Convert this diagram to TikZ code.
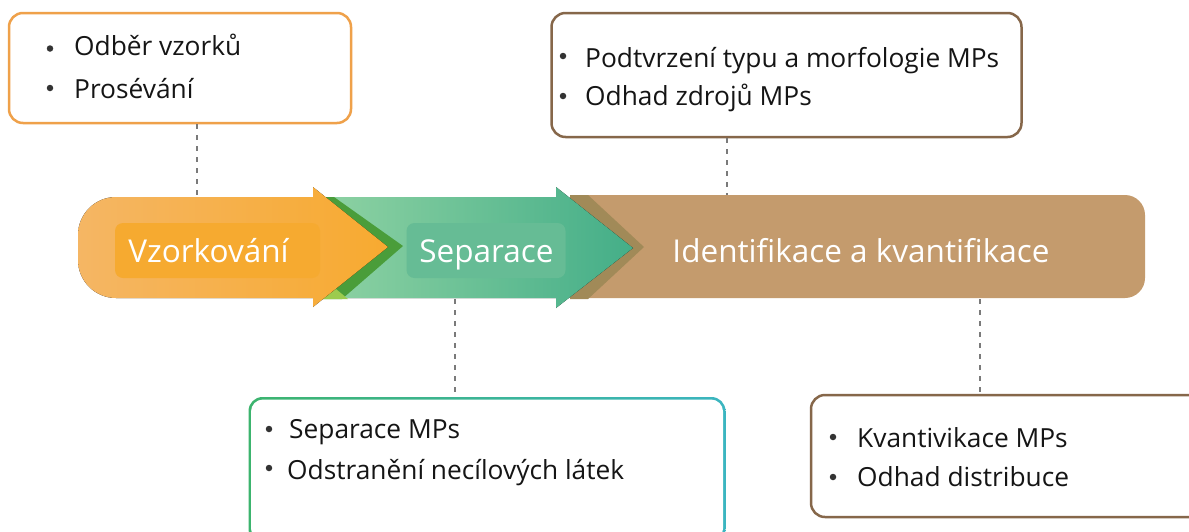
\documentclass[tikz,border=0pt]{standalone}
\usepackage{fontspec}
\setmainfont{Open Sans}
\definecolor{orA}{HTML}{F5B664}
\definecolor{orB}{HTML}{F7AA30}
\definecolor{orIn}{HTML}{F6AA30}
\definecolor{grDark}{HTML}{4A9D3A}
\definecolor{grLime}{HTML}{9CCB4E}
\definecolor{grA}{HTML}{8CD1A2}
\definecolor{grB}{HTML}{44AE88}
\definecolor{grIn}{HTML}{66BC95}
\definecolor{olive}{HTML}{A18A58}
\definecolor{brownband}{HTML}{C49B6D}
\definecolor{bxOr}{HTML}{EFA14A}
\definecolor{bxBr}{HTML}{86674A}
\definecolor{bxGr}{HTML}{3CB46E}
\definecolor{bxTe}{HTML}{3BB5C0}
\definecolor{dashc}{HTML}{7A7A7A}
\definecolor{txt}{HTML}{151515}
\definecolor{dotc}{HTML}{333333}
\tikzset{
  bandlabel/.style={inner sep=0, text=white, font=\fontsize{31.5}{36}\selectfont},
  item/.style={inner sep=0, anchor=base west, text=txt, font=\fontsize{26.3}{30}\selectfont},
  dot/.style={circle, fill=dotc, inner sep=0, minimum size=6.5pt},
  infobox/.style={draw, line width=2.5pt, rounded corners=14pt, fill=white, inner sep=0},
  conn/.style={draw=dashc, line width=2.5pt, dash pattern=on 5pt off 6pt},
}
\begin{document}
\begin{tikzpicture}[x=1pt,y=-1pt]
\useasboundingbox (0,0) rectangle (1189,531);
\clip (0,0) rectangle (1189,531);
\fill[white] (0,0) rectangle (1189,531);

% brown band
\fill[brownband] (573,195) -- (1125,195) .. controls (1136,195) and (1145,204) .. (1145,215)
  -- (1145,278) .. controls (1145,289) and (1136,298) .. (1125,298) -- (573,298) -- cycle;
\fill[olive] (570,195) -- (588,195) -- (644,247) -- (588,299) -- (570,299) -- cycle;

% green arrow
\fill[left color=grA, right color=grB] (330,197) -- (556,197) -- (556,187) -- (633,248)
  -- (556,308) -- (556,298) -- (330,298) -- cycle;
\node[fill=grIn, rounded corners=8pt, minimum width=159pt, minimum height=55pt, inner sep=0] (sepbox) at (486,250.5) {};

% dark green chevron behind orange tip
\fill[grDark] (320,197) -- (334,197) -- (403,246) -- (342,299) -- (320,299) -- cycle;
\fill[grLime] (322,299) -- (336,289) -- (348,299) -- cycle;

% orange arrow
\fill[left color=orA, right color=orB] (313,197) -- (313,187) -- (388,247) -- (313,307) -- (313,298)
  -- (116,298) .. controls (95,298) and (78,281) .. (78,260) -- (78,235) .. controls (78,214) and (95,197) .. (116,197) -- cycle;
\node[fill=orIn, rounded corners=8pt, minimum width=205pt, minimum height=55pt, inner sep=0] (vzbox) at (217.5,250.5) {};

% band labels
\node[bandlabel, anchor=base] (vz) at (208.5,262) {Vzorkování};
\node[bandlabel, anchor=base] (sep) at (486.5,262) {Separace};
\node[bandlabel, anchor=base] (idk) at (861,262) {Identifikace a kvantifikace};

% anchor coordinates on the band
\coordinate (c1) at (197,197);
\coordinate (c2) at (727,195);
\coordinate (c3) at (455,299);
\coordinate (c4) at (980,299);

% box 1
\node[infobox, draw=bxOr, minimum width=342pt, minimum height=110pt] (b1) at (180,68) {};
\node[dot] (d11) at (50,48.5) {};
\node[item] (t11) at (74,55) {Odběr vzorků};
\node[dot] (d12) at (50,88) {};
\node[item] (t12) at (74,98) {Prosévání};

% box 2
\node[infobox, draw=bxBr, minimum width=470pt, minimum height=124pt] (b2) at (786.5,75) {};
\node[dot] (d21) at (563,56) {};
\node[item] (t21) at (585,67) {Podtvrzení typu a morfologie MPs};
\node[dot] (d22) at (563,96) {};
\node[item] (t22) at (585,105) {Odhad zdrojů MPs};

% box 3 (gradient border)
\node[rounded corners=14pt, left color=bxGr, right color=bxTe, minimum width=477pt, minimum height=146pt, inner sep=0] (b3o) at (487,470) {};
\node[rounded corners=12pt, fill=white, minimum width=472pt, minimum height=141pt, inner sep=0] (b3) at (487,470) {};
\node[dot] (d31) at (269,429) {};
\node[item] (t31) at (289,438) {Separace MPs};
\node[dot] (d32) at (269,468) {};
\node[item] (t32) at (287,479) {Odstranění necílových látek};

% box 4
\node[infobox, draw=bxBr, minimum width=420pt, minimum height=122pt] (b4) at (1021,456) {};
\node[dot] (d41) at (833,437) {};
\node[item] (t41) at (857,447) {Kvantivikace MPs};
\node[dot] (d42) at (833,477) {};
\node[item] (t42) at (857,486) {Odhad distribuce};

% connectors
\draw[conn] (b1.south -| c1) -- (c1);
\draw[conn] (b2.south -| c2) -- (c2);
\draw[conn] (c3) -- (b3o.north -| c3);
\draw[conn] (c4) -- (b4.north -| c4);
\end{tikzpicture}
\end{document}
